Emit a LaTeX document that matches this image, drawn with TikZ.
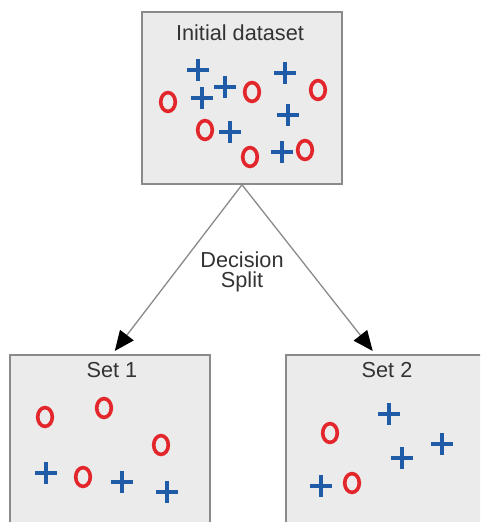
\documentclass[tikz,border=0pt]{standalone}
\usepackage{fontspec}
\setmainfont{Liberation Sans}
\usetikzlibrary{calc, arrows.meta, positioning}
\definecolor{boxgray}{HTML}{EBEBEB}
\definecolor{edgegray}{HTML}{8A8A8A}
\definecolor{crossblue}{HTML}{1F5BA6}
\definecolor{ringred}{HTML}{E2262B}

\begin{document}
\begin{tikzpicture}[x=1pt,y=-1pt,
    setbox/.style={draw=edgegray,line width=1.5pt,fill=boxgray,inner sep=0pt},
    boxtitle/.style={font=\fontsize{21.7}{20.5}\selectfont,text=black!80,align=center},
    crossmark/.style={draw=crossblue,line width=4pt},
    ringmark/.style={draw=ringred,line width=3.6pt},
    splitarrow/.style={draw=edgegray,line width=1.3pt,-{Triangle[length=20pt,width=17pt,color=black]}}]
            \clip (0,0) rectangle (480,522);
            \node[setbox,minimum width=200pt,minimum height=172pt] (init) at (242,98) {};
            \node[setbox,minimum width=200pt,minimum height=220pt,anchor=north west] (set1) at (9,354) {};
            \node[setbox,minimum width=200pt,minimum height=220pt,anchor=north west] (set2) at (285,354) {};
            \node[boxtitle] (inittitle) at (240,33) {Initial dataset};
            \node[boxtitle] (set1title) at (112,370) {Set 1};
            \node[boxtitle] (set2title) at (387,370) {Set 2};

            % the split
            \coordinate (tipL) at ($(set1.north)+(5,-3)$);
            \coordinate (tipR) at ($(set2.north)+(-13,-3)$);
            \draw[splitarrow] (init.south) -- (tipL);
            \draw[splitarrow] (init.south) -- (tipR);
            \node[boxtitle] (split) at (242,272) {Decision\\Split};

            % plus class
            \foreach \x/\y in {198/70, 202/98, 225/87, 285/73, 288/115, 230/132, 282/152,
                            46/473, 122/482, 167/492,
                            389/414, 442/444, 402/458, 321/486}
                \draw[crossmark] (\x,\y) ++(-11,0) -- ++(22,0) (\x,\y) ++(0,-11) -- ++(0,22);
            % ring class
            \foreach \x/\y in {168/102, 252/92, 318/90, 205/130, 250/157, 305/150,
                            45/417, 104/408, 161/445, 83/477,
                            330/433, 352/483}
                \draw[ringmark] (\x,\y) ellipse [x radius=7.3pt, y radius=9.4pt];
        \end{tikzpicture}
\end{document}
